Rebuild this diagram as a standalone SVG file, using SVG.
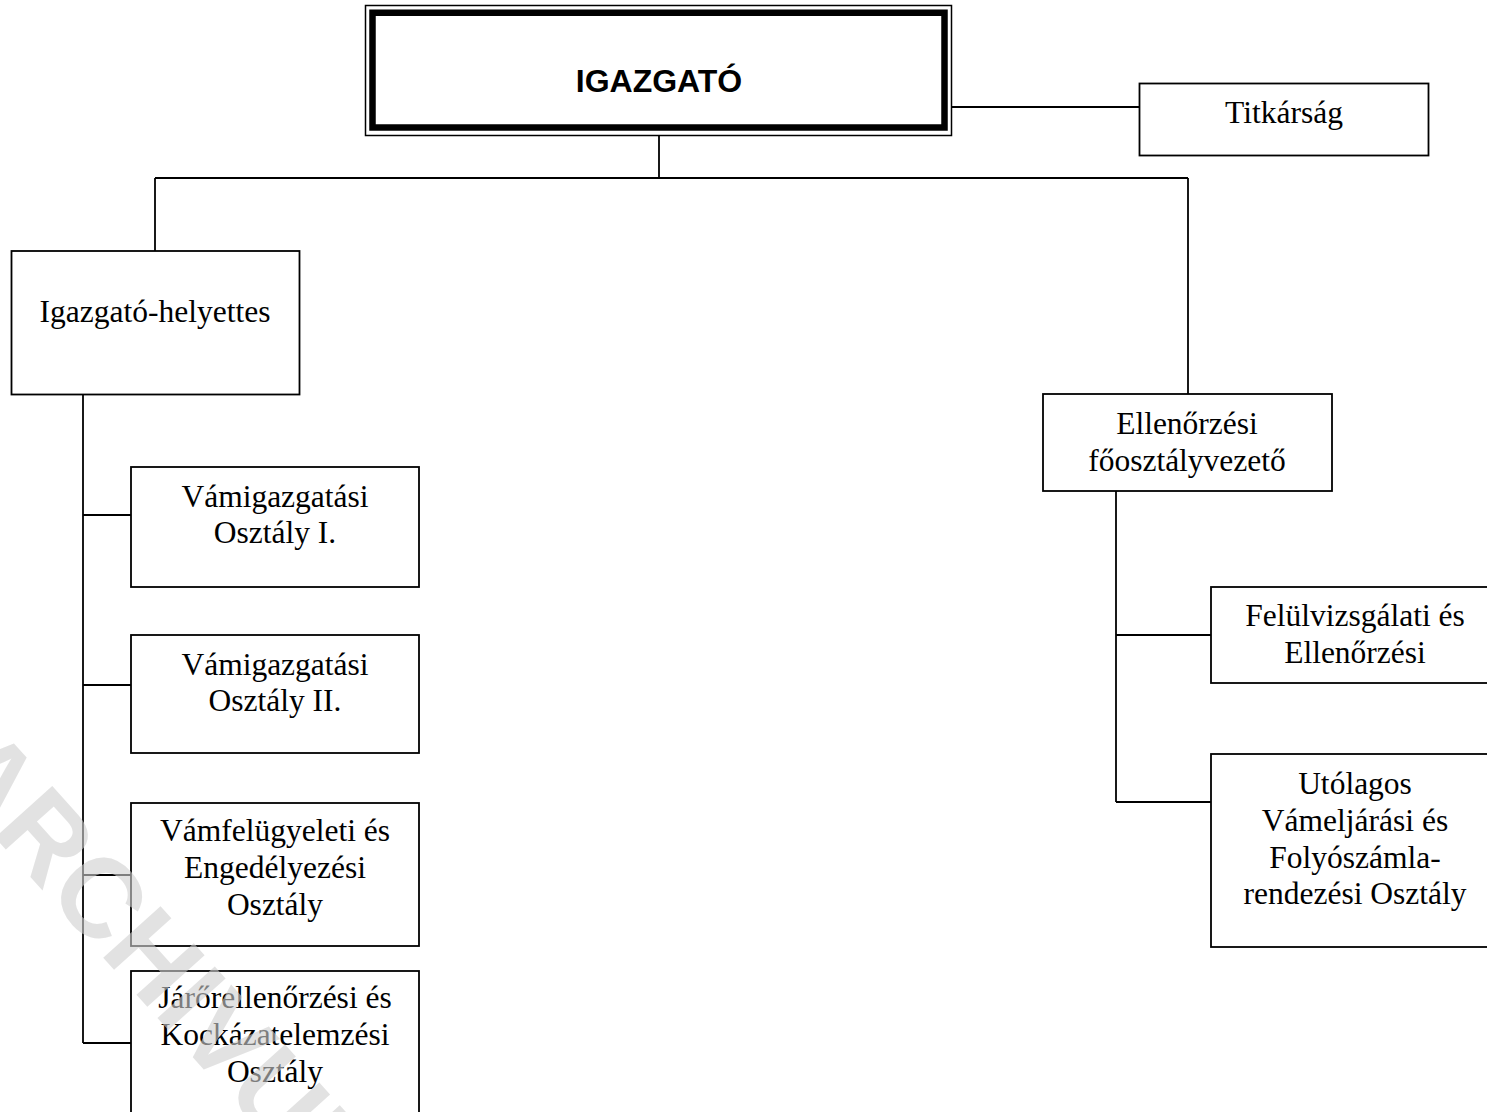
<svg xmlns="http://www.w3.org/2000/svg" width="1487" height="1112" viewBox="0 0 1487 1112">
<style>
.box{fill:#fff;stroke:#000;stroke-width:1.8}
.t{font-family:"Liberation Serif","Times New Roman",serif;font-size:31.5px;fill:#000;text-anchor:middle}
.c{fill:none;stroke:#000;stroke-width:1.8}
</style>
<rect width="1487" height="1112" fill="#fff"/>
<g id="connectors">
<path class="c" d="M952 107H1139"/>
<path class="c" d="M659 135V178"/>
<path class="c" d="M155 178H1188"/>
<path class="c" d="M155 178V251"/>
<path class="c" d="M1188 178V394"/>
<path class="c" d="M83 394V1043"/>
<path class="c" d="M83 515H131"/>
<path class="c" d="M83 685H131"/>
<path class="c" d="M83 875H131"/>
<path class="c" d="M83 1043H131"/>
<path class="c" d="M1116 491V802"/>
<path class="c" d="M1116 635H1211"/>
<path class="c" d="M1116 802H1211"/>
</g>
<g id="igazgato">
<rect x="365.5" y="5.5" width="586" height="130" fill="#fff" stroke="#000" stroke-width="1.5"/>
<rect x="372.5" y="12.75" width="572" height="114.75" fill="none" stroke="#000" stroke-width="6.5"/>
<text x="659" y="92" text-anchor="middle" font-family="'Liberation Sans',Arial,sans-serif" font-weight="bold" font-size="32">IGAZGATÓ</text>
</g>
<g id="titkarsag">
<rect class="box" x="1139.5" y="83.5" width="289" height="72"/>
<text class="t" x="1284" y="123">Titkárság</text>
</g>
<g id="helyettes">
<rect class="box" x="11.5" y="251" width="288" height="143.5"/>
<text class="t" x="155" y="322">Igazgató-helyettes</text>
</g>
<g id="vamigazgatasi1">
<rect class="box" x="131" y="467" width="288" height="120"/>
<text class="t" x="275" y="507">Vámigazgatási</text>
<text class="t" x="275" y="543">Osztály I.</text>
</g>
<g id="vamigazgatasi2">
<rect class="box" x="131" y="635" width="288" height="118"/>
<text class="t" x="275" y="675">Vámigazgatási</text>
<text class="t" x="275" y="711">Osztály II.</text>
</g>
<g id="vamfelugyeleti">
<rect class="box" x="131" y="803" width="288" height="143"/>
<text class="t" x="275" y="841">Vámfelügyeleti és</text>
<text class="t" x="275" y="878">Engedélyezési</text>
<text class="t" x="275" y="915">Osztály</text>
</g>
<g id="jarorellenorzesi">
<rect class="box" x="131" y="971" width="288" height="160"/>
<text class="t" x="275" y="1008">Járőrellenőrzési és</text>
<text class="t" x="275" y="1045">Kockázatelemzési</text>
<text class="t" x="275" y="1082">Osztály</text>
</g>
<g id="ellenorzesi">
<rect class="box" x="1043" y="394" width="289" height="97"/>
<text class="t" x="1187" y="434">Ellenőrzési</text>
<text class="t" x="1187" y="471">főosztályvezető</text>
</g>
<g id="felulvizsgalati">
<rect class="box" x="1211" y="587" width="289" height="96"/>
<text class="t" x="1355" y="626">Felülvizsgálati és</text>
<text class="t" x="1355" y="663">Ellenőrzési</text>
</g>
<g id="utolagos">
<rect class="box" x="1211" y="754" width="289" height="193"/>
<text class="t" x="1355" y="794">Utólagos</text>
<text class="t" x="1355" y="831">Vámeljárási és</text>
<text class="t" x="1355" y="868">Folyószámla-</text>
<text class="t" x="1355" y="904">rendezési Osztály</text>
</g>
<g id="watermark">
<text transform="translate(-64,772) rotate(48)" font-family="'Liberation Sans',Arial,sans-serif" font-weight="bold" font-size="112" fill="#d0d0d0" opacity="0.6">ARCHIVUM</text>
</g>
</svg>
